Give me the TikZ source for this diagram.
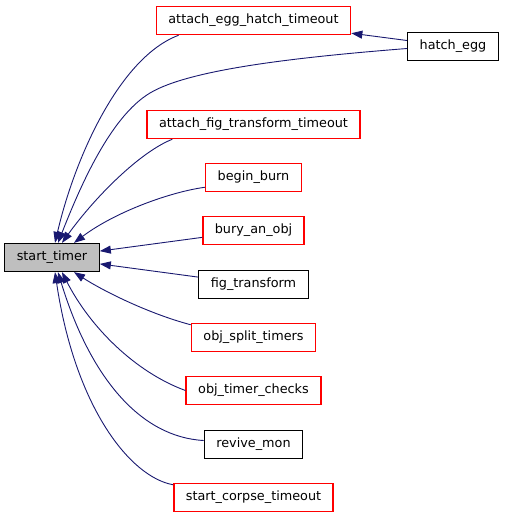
\documentclass[tikz,border=0pt]{standalone}
\usepackage{fontspec}
\setmainfont{DejaVu Sans}
\usepackage{xcolor}
\usepackage{tikz}
\usetikzlibrary{arrows.meta,positioning}
\definecolor{edgeblue}{HTML}{191970}
\definecolor{calleered}{RGB}{255,0,0}

\begin{document}
\begin{tikzpicture}[x=1pt, y=-1pt,
fn/.style={draw=black, text=black, line width=1.3pt, inner xsep=12pt, inner ysep=0pt, minimum height=28pt, font=\fontsize{12.8}{15}\selectfont},
undoc/.style={fn, draw=calleered, line width=1.5pt},
current/.style={fn, fill=gray!50},
call/.style={-{Triangle[length=11pt, width=8pt]}, draw=edgeblue, line width=0.9pt}
]
\useasboundingbox (0,0) rectangle (504,517);
\node[current] (st) at (52,257.5) {start\_timer};
\node[undoc] (aeht) at (253.5,20.5) {attach\_egg\_hatch\_timeout};
\node[fn] (he) at (453,46.5) {hatch\_egg};
\node[undoc] (aft) at (253.5,124.5) {attach\_fig\_transform\_timeout};
\node[undoc] (bb) at (253.5,177.5) {begin\_burn};
\node[undoc] (bao) at (253.5,230.5) {bury\_an\_obj};
\node[fn] (ft) at (253.5,284.5) {fig\_transform};
\node[undoc] (ost) at (253.5,337.5) {obj\_split\_timers};
\node[undoc] (otc) at (253.5,390.5) {obj\_timer\_checks};
\node[fn] (rm) at (253.5,444.5) {revive\_mon};
\node[undoc] (sct) at (253.5,497.5) {start\_corpse\_timeout};
% callers above
\draw[call] (he) -- (aeht);
\draw[call] ([xshift=23pt]aeht.south west) .. controls (120,57) and (75,157) .. ([xshift=3pt]st.north);
\draw[call] ([yshift=-2pt]he.west) .. controls (300,57) and (190,69) .. (150,93)
  .. controls (110,117) and (80,187) .. ([xshift=6pt]st.north);
\draw[call] ([xshift=26pt]aft.south west) .. controls (140,152) and (95,197) .. ([xshift=10pt]st.north);
\draw[call] ([yshift=5pt]bb.south west) .. controls (170,192) and (115,212) .. ([xshift=22pt]st.north);
% callers beside
\draw[call] (bao) -- (st);
\draw[call] (ft) -- (st);
% callers below
\draw[call] ([yshift=-2pt]ost.north west) .. controls (150,314) and (105,292) .. ([xshift=22pt]st.south);
\draw[call] (otc.west) .. controls (135,372) and (90,327) .. ([xshift=10pt]st.south);
\draw[call] ([yshift=4pt]rm.west) .. controls (140,437) and (90,377) .. ([xshift=6pt]st.south);
\draw[call] ([yshift=-2pt]sct.north west) .. controls (130,477) and (75,407) .. ([xshift=3pt]st.south);
\end{tikzpicture}
\end{document}
